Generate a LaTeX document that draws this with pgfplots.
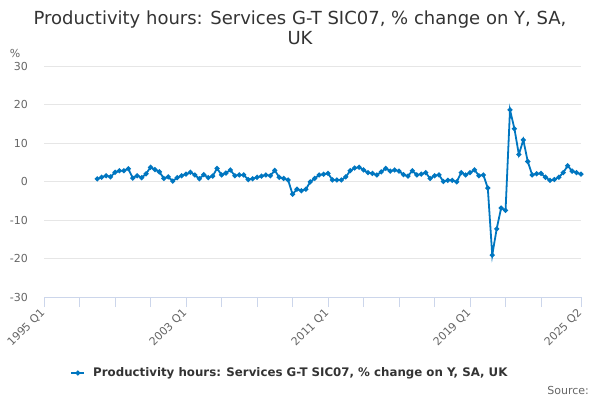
\documentclass[border=0pt]{standalone}
\usepackage{fontspec}
\setmainfont{DejaVu Sans}
\usepackage{pgfplots}
\pgfplotsset{compat=1.18}
\definecolor{linec}{RGB}{0,118,192}
\definecolor{axisc}{HTML}{CCD6EB}
\definecolor{gridc}{HTML}{E6E6E6}
\definecolor{labc}{HTML}{666666}
\definecolor{titc}{HTML}{333333}
\pgfplotstableread{
i v
12 0.7
13 1.1
14 1.5
15 1.2
16 2.4
17 2.8
18 2.8
19 3.3
20 0.9
21 1.5
22 1.0
23 2.0
24 3.7
25 3.1
26 2.5
27 0.8
28 1.2
29 0.1
30 1.0
31 1.5
32 1.9
33 2.4
34 1.7
35 0.7
36 1.8
37 1.0
38 1.4
39 3.4
40 1.7
41 2.2
42 3.0
43 1.5
44 1.7
45 1.7
46 0.5
47 0.7
48 1.1
49 1.4
50 1.7
51 1.5
52 2.9
53 1.1
54 0.8
55 0.4
56 -3.3
57 -2.0
58 -2.4
59 -2.0
60 -0.1
61 0.8
62 1.7
63 1.9
64 2.1
65 0.4
66 0.4
67 0.4
68 1.2
69 2.8
70 3.5
71 3.7
72 3.0
73 2.3
74 2.1
75 1.7
76 2.5
77 3.4
78 2.7
79 3.0
80 2.7
81 1.8
82 1.4
83 2.8
84 1.7
85 1.9
86 2.3
87 0.8
88 1.5
89 1.7
90 0.0
91 0.3
92 0.3
93 -0.1
94 2.3
95 1.7
96 2.3
97 3.0
98 1.5
99 1.7
100 -1.7
101 -19.1
102 -12.3
103 -6.9
104 -7.5
105 18.6
106 13.7
107 7.0
108 10.8
109 5.2
110 1.7
111 2.0
112 2.1
113 1.1
114 0.3
115 0.5
116 1.1
117 2.3
118 4.1
119 2.7
120 2.3
121 1.9
}\datatable
\begin{document}
\begin{tikzpicture}
\useasboundingbox (-44bp,-103bp) rectangle (556bp,297bp);
\begin{axis}[
  scale only axis, width=537bp, height=231bp,
  at={(0,0)}, anchor=south west,
  xmin=0, xmax=121, ymin=-30, ymax=30,
  axis x line*=bottom, axis y line*=left,
  x axis line style={draw=axisc, line width=1bp},
  y axis line style={draw=none},
  xtick={0,32,64,96,121},
  xticklabels={1995 Q1,2003 Q1,2011 Q1,2019 Q1,2025 Q2},
  minor xtick={8,16,24,40,48,56,72,80,88,104,112},
  ytick={-30,-20,-10,0,10,20,30},
  yticklabels={-30,-20,-10,0,10,20,30},
  xtick pos=bottom, ytick pos=left,
  tick align=outside, major tick length=10bp, minor tick length=10bp,
  xtick style={draw=axisc, line width=1bp},
  minor x tick style={draw=axisc, line width=1bp},
  ytick style={draw=none},
  ymajorgrids, grid style={draw=gridc, line width=1bp},
  xminorgrids=false,
  yticklabel style={font=\fontsize{11bp}{13bp}\selectfont, text=labc, anchor=east, inner sep=0pt, xshift=-6bp},
  xticklabel style={font=\fontsize{11bp}{13bp}\selectfont, text=labc, inner sep=0pt, xshift=-1bp, yshift=-4bp, rotate=45, anchor=east},
  legend style={at={(0.458,-0.329)}, anchor=center, draw=none, fill=none,
    font=\fontsize{11.8bp}{14bp}\selectfont\bfseries, text=titc},
  legend image code/.code={\draw[#1, mark repeat=2, mark phase=2] plot coordinates {(0bp,0bp) (6.5bp,0bp) (13bp,0bp)}; \path (19bp,0bp);},
  clip=false,
]
\addplot[color=linec, line width=1.8bp, mark=*, mark size=1.5bp] table[x=i, y=v] {\datatable};
\addlegendentry{Productivity hours: Services G-T SIC07, \% change on Y, SA, UK}
\end{axis}
\node[align=center, font=\fontsize{18bp}{20bp}\selectfont, text=titc] at (256bp,269bp) {Productivity hours: Services G-T SIC07, \% change on Y, SA,\\UK};
\node[font=\fontsize{11bp}{13bp}\selectfont, text=labc] at (-29bp,244bp) {\%};
\node[anchor=east, inner sep=0pt, font=\fontsize{11bp}{13bp}\selectfont, text=labc] at (545bp,-93bp) {Source:};
\end{tikzpicture}
\end{document}
